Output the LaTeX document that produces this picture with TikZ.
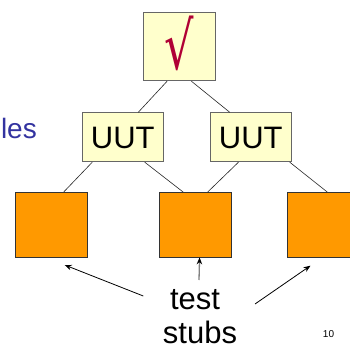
\documentclass[tikz,border=0pt]{standalone}
\usepackage{fontspec}
\setmainfont{Liberation Sans}
\newfontfamily\symfont{DejaVu Sans}
\usetikzlibrary{arrows.meta}
\definecolor{boxyellow}{HTML}{FFFFCC}
\definecolor{boxorange}{HTML}{FF9900}
\definecolor{boxedge}{HTML}{666666}
\definecolor{titleblue}{HTML}{3333A0}
\definecolor{checkred}{HTML}{B00035}
\tikzset{
  ybox/.style={draw=boxedge, line width=0.9pt, fill=boxyellow, inner sep=0pt, anchor=north west},
  obox/.style={draw=black!80, line width=0.9pt, fill=boxorange, inner sep=0pt, anchor=north west, minimum width=72.5pt, minimum height=64.5pt},
  link/.style={line width=0.6pt, draw=black!85},
  arr/.style={line width=0.8pt, -{Stealth[length=7pt,width=5.5pt]}},
  garr/.style={line width=1.3pt, draw=black!50, -{Stealth[length=7pt,width=5.5pt,fill=black,color=black]}},
  lbl/.style={font=\fontsize{31}{31}\selectfont, inner sep=0pt, anchor=base}
}
\begin{document}
\begin{tikzpicture}[x=1pt,y=-1pt]
\useasboundingbox (0,0) rectangle (350,348);
% top box
\node[ybox, minimum width=72.5pt, minimum height=68pt] (top) at (142.7,12.3) {};
\node[text=checkred, font=\symfont\fontsize{44}{44}\selectfont, inner sep=0pt] (chk) at (179.5,43) {\scalebox{1.05}[1.5]{√}};
% UUT boxes
\node[ybox, minimum width=81pt, minimum height=49pt] (uutL) at (82.3,112.3) {};
\node[lbl] (uutLt) at (122.8,148.5) {UUT};
\node[ybox, minimum width=81pt, minimum height=49pt] (uutR) at (210.3,112.3) {};
\node[lbl] (uutRt) at (250.8,148.5) {UUT};
% orange stubs
\node[obox] (ob1) at (14.7,192) {};
\node[obox] (ob2) at (158.7,192) {};
\node[obox] (ob3) at (287,192) {};
% links
\draw[link] ([xshift=-12.3pt]top.south) -- ([xshift=15pt]uutL.north);
\draw[link] ([xshift=12pt]top.south) -- ([xshift=-21.5pt]uutR.north);
\draw[link] ([xshift=-31pt]uutL.south) -- ([xshift=12.3pt]ob1.north);
\draw[link] ([xshift=21.5pt]uutL.south) -- ([xshift=-12.3pt]ob2.north);
\draw[link] ([xshift=-12.8pt]uutR.south) -- ([xshift=12.3pt]ob2.north);
\draw[link] ([xshift=38.5pt]uutR.south) -- ([xshift=3.5pt]ob3.north);
% label text
\node[lbl, text=titleblue, font=\fontsize{28}{28}\selectfont, anchor=base east] (les) at (37,138) {les};
\node[lbl] (test) at (195,309) {test};
\node[lbl] (stubs) at (200,343) {stubs};
\node[font=\fontsize{10}{10}\selectfont, inner sep=0pt, anchor=base] (pg) at (328.5,337.5) {10};
% arrows
\coordinate (la) at (143.3,296);
\coordinate (ma) at (199,280);
\coordinate (ra) at (255,304);
\draw[arr] (la) -- ([xshift=13.3pt,yshift=-7.6pt]ob1.south);
\draw[garr] (ma) -- ([xshift=4.2pt]ob2.south);
\draw[arr] (ra) -- ([xshift=-13.25pt,yshift=-8.3pt]ob3.south);
\end{tikzpicture}
\end{document}
